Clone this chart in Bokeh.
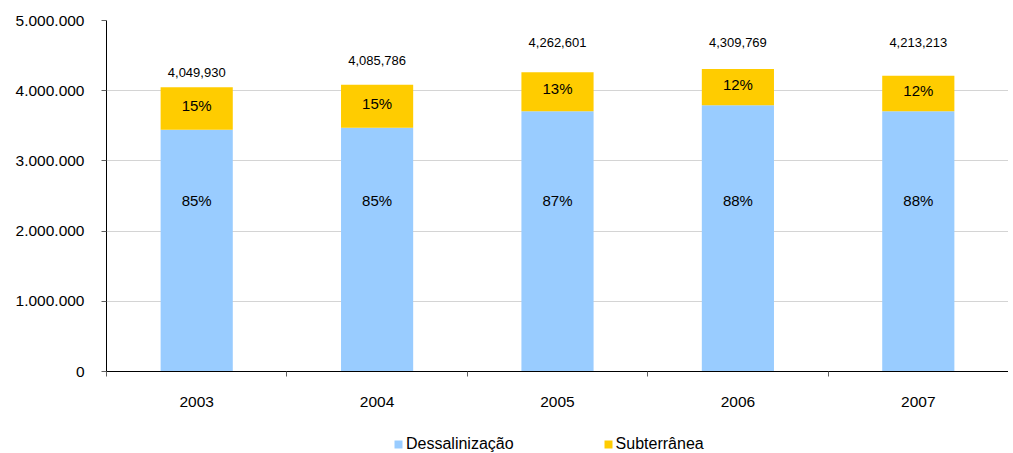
from bokeh.plotting import figure
from bokeh.layouts import column
from bokeh.models import (ColumnDataSource, FixedTicker, CustomJSTickFormatter,
                          Legend, LegendItem, Range1d)
from bokeh.core.properties import value
from bokeh.embed import file_html
from bokeh.resources import INLINE

# ---- data ----
years = ["2003", "2004", "2005", "2006", "2007"]
dessalinizacao = [3442440, 3472918, 3708463, 3792597, 3707627]
subterranea = [607490, 612868, 554138, 517172, 505586]
y_ticks = [0, 1000000, 2000000, 3000000, 4000000, 5000000]

# ---- styling constants ----
FONT = "Liberation Sans"
BLUE = "#99CCFF"
GOLD = "#FFCC00"
total_label_offsets = [-15, -24, -30, -26, -33]   # px above bar top
inner_label_y = 2440000

x = [i + 0.5 for i in range(len(years))]
totals = [d + s for d, s in zip(dessalinizacao, subterranea)]
src = ColumnDataSource(dict(
    x=x,
    d=dessalinizacao,
    s=subterranea,
    top=totals,
    d_pct=[f"{round(d / t * 100)}%" for d, t in zip(dessalinizacao, totals)],
    s_pct=[f"{round(s / t * 100)}%" for s, t in zip(subterranea, totals)],
    s_mid=[d + s / 2 for d, s in zip(dessalinizacao, subterranea)],
    inner_y=[inner_label_y] * len(years),
    tot_lbl=[f"{t:,}" for t in totals],
    off=total_label_offsets,
))

p = figure(width=1008, height=428, output_backend="svg", toolbar_location=None,
           x_range=Range1d(0, len(years)), y_range=Range1d(0, 5000000),
           min_border_left=106, min_border_right=0, min_border_top=20,
           min_border_bottom=57)
p.outline_line_color = None
p.background_fill_color = "white"
p.border_fill_color = "white"

p.vbar(x="x", bottom=0, top="d", width=0.4, source=src,
       fill_color=BLUE, line_color=None)
p.vbar(x="x", bottom="d", top="top", width=0.4, source=src,
       fill_color=GOLD, line_color=None)

p.text(x="x", y="inner_y", text="d_pct", source=src, text_align="center",
       text_baseline="middle", text_font=value(FONT), text_font_size="15px",
       text_color="black")
p.text(x="x", y="s_mid", text="s_pct", source=src, text_align="center",
       text_baseline="middle", text_font=value(FONT), text_font_size="15px",
       text_color="black", y_offset=-3)
p.text(x="x", y="top", text="tot_lbl", source=src, text_align="center",
       text_baseline="middle", text_font=value(FONT), text_font_size="13px",
       text_color="black", y_offset="off")

# grid
p.xgrid.grid_line_color = None
p.ygrid.grid_line_color = "#D4D4D4"
p.ygrid.grid_line_width = 1

# y axis
p.yaxis.ticker = FixedTicker(ticks=y_ticks)
p.yaxis.formatter = CustomJSTickFormatter(code="""
return Math.round(tick).toString().replace(/\\B(?=(\\d{3})+(?!\\d))/g, ".");
""")
p.yaxis.axis_line_color = "black"
p.yaxis.major_tick_line_color = "#606060"
p.yaxis.major_tick_out = 5
p.yaxis.major_tick_in = 0
p.yaxis.minor_tick_line_color = None
p.yaxis.major_label_text_font = FONT
p.yaxis.major_label_text_font_size = "15.5px"
p.yaxis.major_label_text_color = "black"
p.yaxis.major_label_standoff = 17

# x axis
p.xaxis.ticker = FixedTicker(ticks=x, minor_ticks=list(range(len(years) + 1)))
p.xaxis.major_label_overrides = {xx: y for xx, y in zip(x, years)}
p.xaxis.axis_line_color = "black"
p.xaxis.major_tick_line_color = None
p.xaxis.major_tick_out = 5
p.xaxis.major_tick_in = 0
p.xaxis.minor_tick_line_color = "#606060"
p.xaxis.minor_tick_out = 5
p.xaxis.minor_tick_in = 0
p.xaxis.major_label_text_font = FONT
p.xaxis.major_label_text_font_size = "15.5px"
p.xaxis.major_label_text_color = "black"
p.xaxis.major_label_standoff = 20

# ---- legend strip below the chart (proxy renderers kept out of view) ----
lf = figure(width=1008, height=25, output_backend="svg", toolbar_location=None,
            x_axis_type=None, y_axis_type=None,
            x_range=Range1d(100, 101), y_range=Range1d(1e8, 2e8),
            min_border_left=0, min_border_right=0, min_border_top=0,
            min_border_bottom=0)
lf.outline_line_color = None
lf.xgrid.visible = False
lf.ygrid.visible = False
lr_d = lf.vbar(x="x", top="d", width=0.4, source=src,
               fill_color=BLUE, line_color=None)
lr_s = lf.vbar(x="x", bottom="d", top="top", width=0.4, source=src,
               fill_color=GOLD, line_color=None)
legend = Legend(items=[LegendItem(label="Dessalinização", renderers=[lr_d]),
                       LegendItem(label="Subterrânea", renderers=[lr_s])],
                orientation="horizontal", location=(287, 0),
                glyph_width=10, glyph_height=10, label_standoff=3,
                spacing=89, padding=0, margin=0, border_line_color=None,
                background_fill_alpha=0,
                label_text_font=FONT, label_text_font_size="16px",
                label_text_color="black")
lf.add_layout(legend, "center")

layout = column(p, lf, spacing=0)
open("out.html", "w").write(file_html(layout, INLINE))
